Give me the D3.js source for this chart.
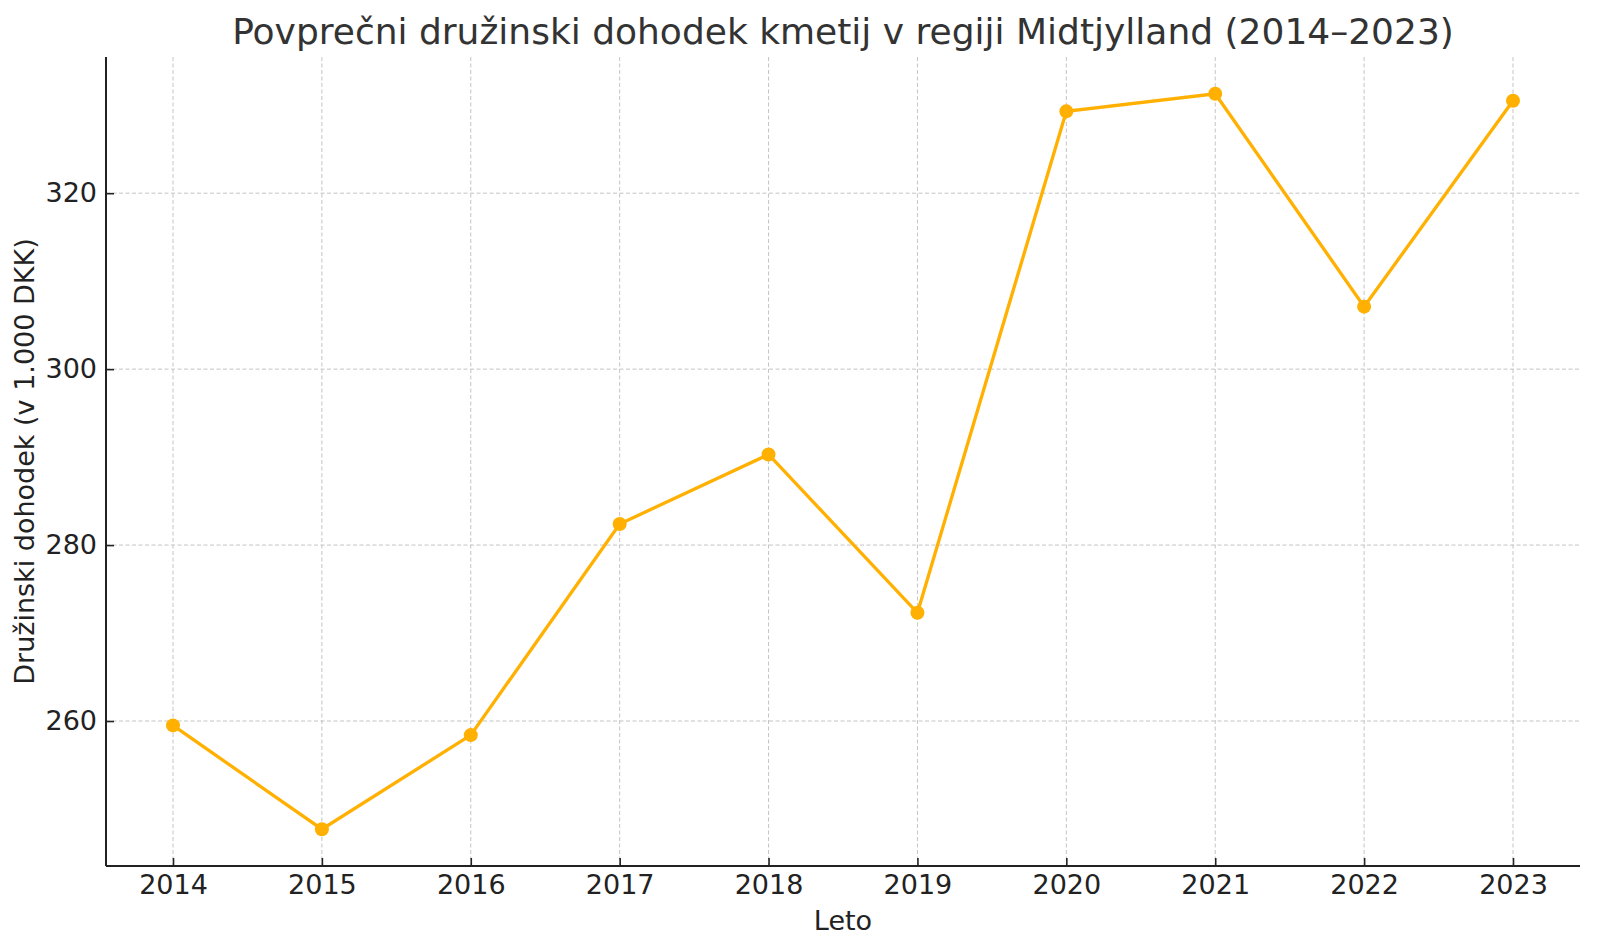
<!DOCTYPE html>
<html>
<head>
<meta charset="utf-8">
<script src="https://cdn.jsdelivr.net/npm/d3@7"></script>
<style>
  html, body { margin: 0; padding: 0; background: #fff; }
  svg { display: block; font-family: "DejaVu Sans", sans-serif; }
</style>
</head>
<body>
<svg id="chart" width="1600" height="948"></svg>
<script>
const years = [2014, 2015, 2016, 2017, 2018, 2019, 2020, 2021, 2022, 2023];
const income = [259.5, 247.7, 258.4, 282.4, 290.3, 272.3, 329.3, 331.3, 307.1, 330.5];
const yTicks = [260, 280, 300, 320];
const titleText = "Povprečni družinski dohodek kmetij v regiji Midtjylland (2014–2023)";
const xLabel = "Leto";
const yLabel = "Družinski dohodek (v 1.000 DKK)";

const W = 1600, H = 948;
const m = { left: 106, right: 1580, top: 57, bottom: 866 };
const svg = d3.select("#chart");

const x = d3.scaleLinear().domain([2014 - 0.45, 2023 + 0.45]).range([m.left, m.right]);
const yMin = d3.min(income), yMax = d3.max(income), pad = (yMax - yMin) * 0.05;
const y = d3.scaleLinear().domain([yMin - pad, yMax + pad]).range([m.bottom, m.top]);

const grid = svg.append("g");
grid.selectAll("line.v").data(years).enter().append("line")
  .attr("x1", d => x(d)).attr("x2", d => x(d))
  .attr("y1", m.top).attr("y2", m.bottom)
  .attr("stroke", "#c4c4c4").attr("stroke-width", 1).attr("stroke-dasharray", "4,2.5");
grid.selectAll("line.h").data(yTicks).enter().append("line")
  .attr("x1", m.left).attr("x2", m.right)
  .attr("y1", d => y(d)).attr("y2", d => y(d))
  .attr("stroke", "#c4c4c4").attr("stroke-width", 1).attr("stroke-dasharray", "4,2.5");

const xAxis = svg.append("g").attr("transform", `translate(0,${m.bottom})`)
  .call(d3.axisBottom(x).tickValues(years).tickFormat(d3.format("d")).tickSizeInner(-8).tickSizeOuter(0).tickPadding(9));
const yAxis = svg.append("g").attr("transform", `translate(${m.left},0)`)
  .call(d3.axisLeft(y).tickValues(yTicks).tickSizeInner(-8).tickSizeOuter(0).tickPadding(9));

[xAxis, yAxis].forEach(a => {
  a.select(".domain").attr("stroke", "#222").attr("stroke-width", 2);
  a.selectAll(".tick line").attr("stroke", "#222").attr("stroke-width", 1.6);
  a.selectAll(".tick text").attr("fill", "#222").style("font-size", "27px").style("font-family", "DejaVu Sans");
});
xAxis.select(".domain").attr("d", `M${m.left},0H${m.right}`);
yAxis.select(".domain").attr("d", `M0,${m.top}V${m.bottom}`);

const line = d3.line().x((d, i) => x(years[i])).y(d => y(d));
svg.append("path").datum(income)
  .attr("d", line).attr("fill", "none")
  .attr("stroke", "#ffb000").attr("stroke-width", 3.3);
svg.selectAll("circle.pt").data(income).enter().append("circle")
  .attr("cx", (d, i) => x(years[i])).attr("cy", d => y(d)).attr("r", 7)
  .attr("fill", "#ffb000");

svg.append("text").attr("x", (m.left + m.right) / 2).attr("y", 44)
  .attr("text-anchor", "middle").attr("fill", "#333").style("font-size", "36px")
  .text(titleText);
svg.append("text").attr("x", (m.left + m.right) / 2).attr("y", 930)
  .attr("text-anchor", "middle").attr("fill", "#222").style("font-size", "27px")
  .text(xLabel);
svg.append("text").attr("transform", `translate(34,${(m.top + m.bottom) / 2}) rotate(-90)`)
  .attr("text-anchor", "middle").attr("fill", "#222").style("font-size", "27px")
  .text(yLabel);
</script>
</body>
</html>
